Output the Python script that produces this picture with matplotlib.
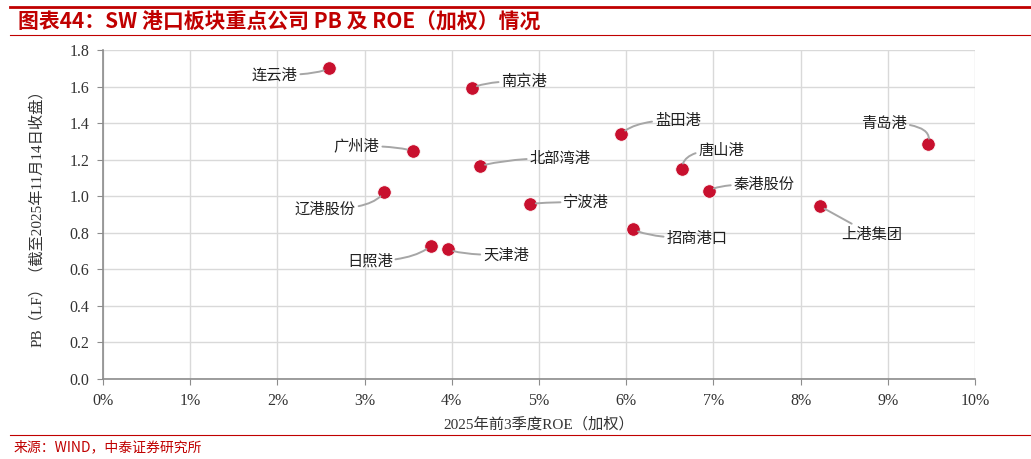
"""SW port sector: PB vs weighted ROE scatter (Figure 44)."""

import matplotlib

matplotlib.use("Agg")
import matplotlib.pyplot as plt
from matplotlib.lines import Line2D
from matplotlib.ticker import FuncFormatter, MultipleLocator

CJK = ["Noto Sans CJK SC", "DejaVu Sans"]
SERIF_CJK = ["Liberation Serif", "Noto Sans CJK SC"]
RED = "#C00000"
DOT = "#C8102E"

companies = ["连云港", "南京港", "盐田港", "青岛港", "广州港", "北部湾港", "唐山港",
             "秦港股份", "辽港股份", "宁波港", "上港集团", "招商港口", "日照港", "天津港"]
roe_pct = [2.59, 4.23, 5.94, 9.46, 3.55, 4.32, 6.64, 6.95, 3.22, 4.90, 8.22, 6.08, 3.76, 3.96]
pb = [1.70, 1.59, 1.34, 1.285, 1.247, 1.165, 1.149, 1.028, 1.023, 0.957, 0.946, 0.82, 0.728, 0.711]

# label placement (data coords) and leader-line shape
label_layout = {
    "连云港": ((1.97, 1.663), "angle3,angleA=0,angleB=30"),
    "南京港": ((4.83, 1.630), "angle3,angleA=0,angleB=30"),
    "盐田港": ((6.59, 1.417), "angle3,angleA=0,angleB=45"),
    "青岛港": ((8.96, 1.400), "angle3,angleA=0,angleB=70"),
    "广州港": ((2.91, 1.275), "angle3,angleA=0,angleB=-20"),
    "北部湾港": ((5.24, 1.209), "angle3,angleA=0,angleB=15"),
    "唐山港": ((7.09, 1.253), "angle3,angleA=0,angleB=90"),
    "秦港股份": ((7.58, 1.067), "angle3,angleA=0,angleB=45"),
    "辽港股份": ((2.55, 0.930), "angle3,angleA=0,angleB=60"),
    "宁波港": ((5.54, 0.968), "angle3,angleA=0,angleB=10"),
    "上港集团": ((8.82, 0.788), "arc3,rad=0"),
    "招商港口": ((6.81, 0.771), "angle3,angleA=0,angleB=-30"),
    "日照港": ((3.06, 0.646), "angle3,angleA=0,angleB=40"),
    "天津港": ((4.62, 0.678), "angle3,angleA=0,angleB=-30"),
}

fig = plt.figure(figsize=(10.31, 4.59), dpi=100)
ax = fig.add_axes([103 / 1031, 1 - 379 / 459, 872 / 1031, 329 / 459])

ax.scatter(roe_pct, pb, s=95, color=DOT, edgecolor="white", linewidth=0.6, zorder=4)

for name, x, y in zip(companies, roe_pct, pb):
    pos, conn = label_layout[name]
    ax.annotate(name, xy=(x, y), xytext=pos, ha="center", va="center",
                fontsize=11, family=CJK, color="#202020", zorder=5,
                arrowprops=dict(arrowstyle="-", color="#A6A6A6", lw=1.4,
                                shrinkA=0, shrinkB=4, connectionstyle=conn))

ax.set_xlim(0, 10)
ax.set_ylim(0, 1.8)
ax.xaxis.set_major_locator(MultipleLocator(1))
ax.yaxis.set_major_locator(MultipleLocator(0.2))
ax.xaxis.set_major_formatter(FuncFormatter(lambda v, _: f"{v:.0f}%"))
ax.yaxis.set_major_formatter(FuncFormatter(lambda v, _: f"{v:.1f}"))
ax.grid(True, color="#D9D9D9", lw=1.0)
ax.set_axisbelow(True)
for side in ["top", "right"]:
    ax.spines[side].set_visible(False)
for side in ["left", "bottom"]:
    ax.spines[side].set_color("#8C8C8C")
    ax.spines[side].set_linewidth(1.2)
ax.tick_params(direction="out", length=4, color="#8C8C8C", labelsize=11.5, pad=6)
for lab in ax.get_xticklabels() + ax.get_yticklabels():
    lab.set_family("Liberation Serif")
    lab.set_color("#333333")

ax.set_xlabel("2025年前3季度ROE（加权）", family=SERIF_CJK, fontsize=11, color="#333333", labelpad=6)
ax.set_ylabel("PB（LF）（截至2025年11月14日收盘）", family=SERIF_CJK, fontsize=11,
              color="#333333", labelpad=18)

# frame lines and captions
fig.add_artist(Line2D([10 / 1031, 1], [1 - 7 / 459] * 2, color=RED, lw=2.0))
fig.add_artist(Line2D([10 / 1031, 1], [1 - 35 / 459] * 2, color=RED, lw=0.8))
fig.add_artist(Line2D([10 / 1031, 1], [1 - 435 / 459] * 2, color=RED, lw=0.8))
fig.text(18 / 1031, 1 - 22 / 459, "图表44：SW 港口板块重点公司 PB 及 ROE（加权）情况",
         family=CJK, fontsize=15, fontweight="bold", style="italic", color=RED, va="center")
fig.text(14 / 1031, 1 - 447 / 459, "来源：WIND，中泰证券研究所",
         family=CJK, fontsize=10, color=RED, va="center")

fig.savefig("out.png", dpi=100)
